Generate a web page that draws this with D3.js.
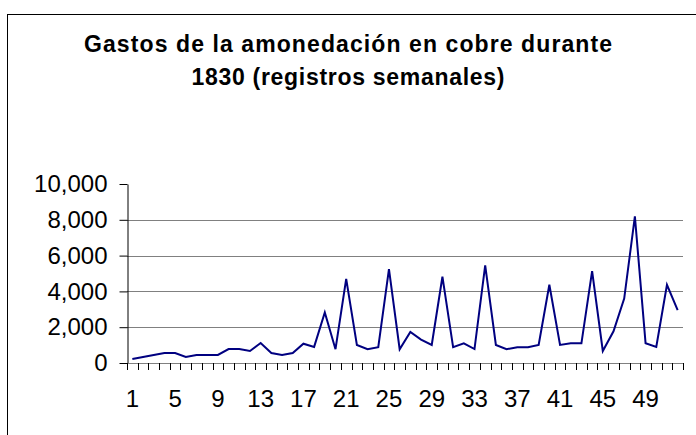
<!DOCTYPE html>
<html><head><meta charset="utf-8">
<script src="https://cdn.jsdelivr.net/npm/d3@7"></script>
<style>
html,body{margin:0;padding:0;background:#fff;}
svg{display:block;font-family:"Liberation Sans",Arial,sans-serif;}
</style></head>
<body>
<svg id="c" width="696" height="435"></svg>
<script>
const titleLines = ["Gastos de la amonedación en cobre durante", "1830 (registros semanales)"];
const weeks = d3.range(1, 53);
const values = [220, 330, 450, 560, 560, 340, 450, 450, 450, 780,
  780, 670, 1120, 560, 450, 560, 1080, 900, 2820, 770,
  4700, 1010, 770, 880, 5240, 770, 1740, 1310, 1010, 4820,
  880, 1100, 780, 5450, 1010, 770, 880, 880, 1010, 4370,
  1010, 1100, 1100, 5130, 670, 1770, 3600, 8190, 1100, 900,
  4370, 2950];
const yTicks = [0, 2000, 4000, 6000, 8000, 10000];
const xLabels = [1, 5, 9, 13, 17, 21, 25, 29, 33, 37, 41, 45, 49];

const svg = d3.select("#c");
svg.append("rect").attr("x", 7.5).attr("y", 14.5).attr("width", 700).attr("height", 440)
  .attr("fill", "#fff").attr("stroke", "#000").attr("stroke-width", 1);

const x = d3.scaleBand().domain(weeks).range([127, 683]);
const y = d3.scaleLinear().domain([0, 10000]).range([363, 184]);

// title
const titleWidths = [528, 313];
const titleY = [52, 85];
titleLines.forEach((s, i) => {
  svg.append("text").attr("text-anchor", "middle").attr("font-weight", "bold")
    .attr("font-size", 23).attr("fill", "#000")
    .attr("x", 348).attr("y", titleY[i])
    .attr("textLength", titleWidths[i]).attr("lengthAdjust", "spacing")
    .text(s);
});

// gridlines
svg.append("g").selectAll("line").data(yTicks.filter(d => d > 0 && d < 10000)).join("line")
  .attr("x1", 127).attr("x2", 683).attr("y1", d => Math.round(y(d)) + 0.5).attr("y2", d => Math.round(y(d)) + 0.5)
  .attr("stroke", "#808080").attr("stroke-width", 1);

// y axis
const yAxis = svg.append("g").attr("transform", "translate(127.5,0)")
  .call(d3.axisLeft(y).tickValues(yTicks).tickFormat(d3.format(",")).tickSize(8).tickPadding(12).tickSizeOuter(0));
yAxis.select(".domain").attr("stroke", "#000");
yAxis.selectAll(".tick line").attr("stroke", "#000");
yAxis.selectAll("text").attr("font-size", 24).attr("font-family", "Liberation Sans, Arial, sans-serif").attr("fill", "#000");

// x axis line
svg.append("line").attr("x1", 127).attr("x2", 683).attr("y1", Math.round(y(0)) + 0.5).attr("y2", Math.round(y(0)) + 0.5)
  .attr("stroke", "#808080");
// x boundary ticks
svg.append("g").selectAll("line").data(weeks.slice(1).concat(["end"])).join("line")
  .attr("x1", d => Math.round(d === "end" ? x.range()[1] : x(d)) + 0.5)
  .attr("x2", d => Math.round(d === "end" ? x.range()[1] : x(d)) + 0.5)
  .attr("y1", y(0)).attr("y2", y(0) + 7).attr("stroke", "#000");
svg.append("line").attr("x1", 127.5).attr("x2", 127.5).attr("y1", y(0)).attr("y2", y(0) + 7).attr("stroke", "#000");

// x labels
const xAxis = svg.append("g").attr("transform", `translate(0,${y(0)})`)
  .call(d3.axisBottom(x).tickValues(xLabels).tickSize(0).tickPadding(27));
xAxis.select(".domain").remove();
xAxis.selectAll("text").attr("font-size", 24).attr("font-family", "Liberation Sans, Arial, sans-serif").attr("fill", "#000");

// line
const line = d3.line().x((d, i) => x(weeks[i]) + x.bandwidth() / 2).y(d => y(d));
svg.append("path").datum(values).attr("d", line).attr("fill", "none")
  .attr("stroke", "#000080").attr("stroke-width", 2).attr("stroke-linejoin", "miter");
</script>
</body></html>
